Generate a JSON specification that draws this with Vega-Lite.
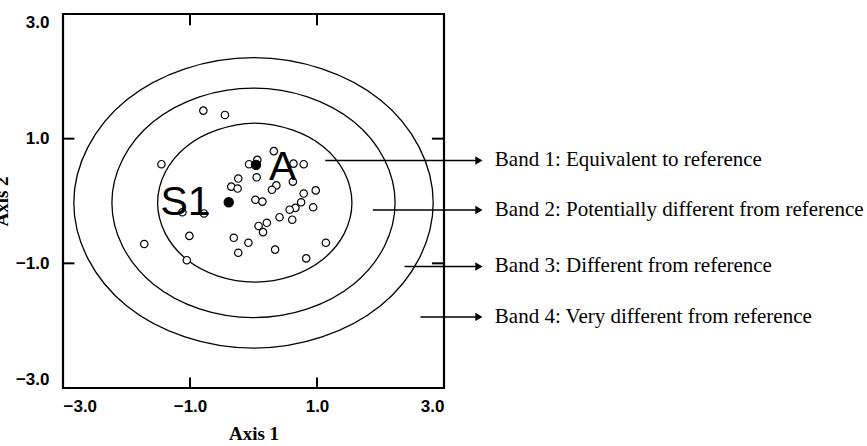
{
  "$schema": "https://vega.github.io/schema/vega-lite/v6.json",
  "autosize": {"type": "none"},
  "padding": {"left": 63, "top": 14, "right": 423, "bottom": 58},
  "width": 381,
  "height": 374,
  "background": "white",
  "config": {
    "view": {"stroke": "black", "strokeWidth": 2.2}
  },
  "datasets": {
    "ellipses": [
      {"band": 1, "i": 0, "x": 1.55, "y": -0.03}, {"band": 1, "i": 1, "x": 1.43, "y": 0.46}, {"band": 1, "i": 2, "x": 1.10, "y": 0.87}, {"band": 1, "i": 3, "x": 0.61, "y": 1.14},
      {"band": 1, "i": 4, "x": 0.02, "y": 1.25}, {"band": 1, "i": 5, "x": -0.57, "y": 1.14}, {"band": 1, "i": 6, "x": -1.06, "y": 0.87}, {"band": 1, "i": 7, "x": -1.39, "y": 0.46},
      {"band": 1, "i": 8, "x": -1.51, "y": -0.03}, {"band": 1, "i": 9, "x": -1.39, "y": -0.52}, {"band": 1, "i": 10, "x": -1.06, "y": -0.93}, {"band": 1, "i": 11, "x": -0.57, "y": -1.20},
      {"band": 1, "i": 12, "x": 0.02, "y": -1.30}, {"band": 1, "i": 13, "x": 0.61, "y": -1.20}, {"band": 1, "i": 14, "x": 1.10, "y": -0.93}, {"band": 1, "i": 15, "x": 1.43, "y": -0.52},
      {"band": 2, "i": 0, "x": 2.23, "y": -0.03}, {"band": 2, "i": 1, "x": 2.06, "y": 0.67}, {"band": 2, "i": 2, "x": 1.58, "y": 1.27}, {"band": 2, "i": 3, "x": 0.85, "y": 1.67},
      {"band": 2, "i": 4, "x": 0.0, "y": 1.81}, {"band": 2, "i": 5, "x": -0.85, "y": 1.67}, {"band": 2, "i": 6, "x": -1.58, "y": 1.27}, {"band": 2, "i": 7, "x": -2.06, "y": 0.67},
      {"band": 2, "i": 8, "x": -2.23, "y": -0.03}, {"band": 2, "i": 9, "x": -2.06, "y": -0.73}, {"band": 2, "i": 10, "x": -1.58, "y": -1.33}, {"band": 2, "i": 11, "x": -0.85, "y": -1.73},
      {"band": 2, "i": 12, "x": 0.0, "y": -1.87}, {"band": 2, "i": 13, "x": 0.85, "y": -1.73}, {"band": 2, "i": 14, "x": 1.58, "y": -1.33}, {"band": 2, "i": 15, "x": 2.06, "y": -0.73},
      {"band": 3, "i": 0, "x": 2.83, "y": -0.03}, {"band": 3, "i": 1, "x": 2.61, "y": 0.86}, {"band": 3, "i": 2, "x": 2.00, "y": 1.62}, {"band": 3, "i": 3, "x": 1.08, "y": 2.12},
      {"band": 3, "i": 4, "x": 0.0, "y": 2.30}, {"band": 3, "i": 5, "x": -1.08, "y": 2.12}, {"band": 3, "i": 6, "x": -2.00, "y": 1.62}, {"band": 3, "i": 7, "x": -2.61, "y": 0.86},
      {"band": 3, "i": 8, "x": -2.83, "y": -0.03}, {"band": 3, "i": 9, "x": -2.61, "y": -0.92}, {"band": 3, "i": 10, "x": -2.00, "y": -1.68}, {"band": 3, "i": 11, "x": -1.08, "y": -2.18},
      {"band": 3, "i": 12, "x": 0.0, "y": -2.36}, {"band": 3, "i": 13, "x": 1.08, "y": -2.18}, {"band": 3, "i": 14, "x": 2.00, "y": -1.68}, {"band": 3, "i": 15, "x": 2.61, "y": -0.92}
    ],
    "points": [
      {"x": -0.79, "y": 1.45, "type": "open"}, {"x": -0.45, "y": 1.38, "type": "open"}, {"x": -1.45, "y": 0.59, "type": "open"},
      {"x": 0.32, "y": 0.80, "type": "open"}, {"x": 0.06, "y": 0.66, "type": "open"}, {"x": -0.07, "y": 0.59, "type": "open"},
      {"x": 0.63, "y": 0.60, "type": "open"}, {"x": 0.79, "y": 0.59, "type": "open"}, {"x": 0.05, "y": 0.38, "type": "open"},
      {"x": -0.24, "y": 0.36, "type": "open"}, {"x": -0.35, "y": 0.23, "type": "open"}, {"x": -0.25, "y": 0.20, "type": "open"},
      {"x": 0.62, "y": 0.31, "type": "open"}, {"x": 0.36, "y": 0.25, "type": "open"}, {"x": 0.29, "y": 0.18, "type": "open"},
      {"x": 0.98, "y": 0.17, "type": "open"}, {"x": 0.79, "y": 0.12, "type": "open"}, {"x": 0.75, "y": -0.02, "type": "open"},
      {"x": 0.03, "y": 0.02, "type": "open"}, {"x": 0.14, "y": -0.01, "type": "open"}, {"x": 0.66, "y": -0.11, "type": "open"},
      {"x": 0.57, "y": -0.14, "type": "open"}, {"x": 0.94, "y": -0.10, "type": "open"}, {"x": 0.41, "y": -0.26, "type": "open"},
      {"x": 0.61, "y": -0.30, "type": "open"}, {"x": 0.21, "y": -0.35, "type": "open"}, {"x": 0.08, "y": -0.40, "type": "open"},
      {"x": 0.15, "y": -0.50, "type": "open"}, {"x": -0.31, "y": -0.59, "type": "open"}, {"x": -0.08, "y": -0.67, "type": "open"},
      {"x": -0.24, "y": -0.83, "type": "open"}, {"x": 0.34, "y": -0.78, "type": "open"}, {"x": 0.83, "y": -0.92, "type": "open"},
      {"x": 1.14, "y": -0.67, "type": "open"}, {"x": -1.01, "y": -0.56, "type": "open"}, {"x": -1.72, "y": -0.69, "type": "open"},
      {"x": -1.05, "y": -0.95, "type": "open"}, {"x": -1.12, "y": -0.18, "type": "open"}, {"x": -0.78, "y": -0.20, "type": "open"},
      {"x": 0.04, "y": 0.58, "type": "filled"}, {"x": -0.39, "y": -0.02, "type": "filled"}
    ],
    "labels": [
      {"x": 0.46, "y": 0.34, "text": "A"},
      {"x": -1.07, "y": -0.23, "text": "S1"}
    ],
    "arrows": [
      {"x": 1.13, "x2": 3.50, "tip": 3.55, "tx": 3.80, "y": 0.65, "label": "Band 1: Equivalent to reference"},
      {"x": 1.88, "x2": 3.50, "tip": 3.55, "tx": 3.80, "y": -0.145, "label": "Band 2: Potentially different from reference"},
      {"x": 2.38, "x2": 3.50, "tip": 3.55, "tx": 3.80, "y": -1.05, "label": "Band 3: Different from reference"},
      {"x": 2.63, "x2": 3.50, "tip": 3.55, "tx": 3.80, "y": -1.86, "label": "Band 4: Very different from reference"}
    ],
    "ticks": [
      {"x": -1, "x2": -1, "y": -3, "y2": -2.83}, {"x": 1, "x2": 1, "y": -3, "y2": -2.83},
      {"x": -1, "x2": -1, "y": 3, "y2": 2.82}, {"x": 1, "x2": 1, "y": 3, "y2": 2.82},
      {"x": -3, "x2": -2.82, "y": 1, "y2": 1}, {"x": -3, "x2": -2.82, "y": -1, "y2": -1},
      {"x": 3, "x2": 2.81, "y": 1, "y2": 1}, {"x": 3, "x2": 2.81, "y": -1, "y2": -1}
    ]
  },
  "layer": [
    {
      "data": {"name": "ellipses"},
      "mark": {"type": "line", "interpolate": "cardinal-closed", "color": "black", "strokeWidth": 1.3},
      "encoding": {
        "x": {"field": "x", "type": "quantitative", "scale": {"domain": [-3, 3], "nice": false, "zero": false},
          "axis": {"orient": "bottom", "values": [-3, -1, 1, 3], "title": "Axis 1", "grid": false, "domain": false,
            "ticks": false, "tickSize": 0,
            "labelFont": "Liberation Sans", "labelFontWeight": "bold", "labelFontSize": 17, "labelColor": "black", "labelFlush": true, "labelPadding": 10,
            "titleFont": "Liberation Serif", "titleFontWeight": "bold", "titleFontSize": 19, "titleColor": "black", "titlePadding": 10}},
        "y": {"field": "y", "type": "quantitative", "scale": {"domain": [-3, 3], "nice": false, "zero": false},
          "axis": {"orient": "left", "values": [-3, -1, 1, 3], "title": "Axis 2", "grid": false, "domain": false,
            "ticks": false, "tickSize": 0,
            "labelFont": "Liberation Sans", "labelFontWeight": "bold", "labelFontSize": 17, "labelColor": "black", "labelFlush": true, "labelPadding": 14,
            "titleFont": "Liberation Serif", "titleFontWeight": "bold", "titleFontSize": 19, "titleColor": "black", "titlePadding": 4}},
        "detail": {"field": "band", "type": "nominal"},
        "order": {"field": "i", "type": "quantitative"}
      }
    },
    {
      "data": {"name": "ticks"},
      "mark": {"type": "rule", "color": "black", "strokeWidth": 2},
      "encoding": {
        "x": {"field": "x", "type": "quantitative"},
        "x2": {"field": "x2"},
        "y": {"field": "y", "type": "quantitative"},
        "y2": {"field": "y2"}
      }
    },
    {
      "data": {"name": "arrows"},
      "mark": {"type": "rule", "color": "black", "strokeWidth": 1.5},
      "encoding": {
        "x": {"field": "x", "type": "quantitative"},
        "x2": {"field": "x2"},
        "y": {"field": "y", "type": "quantitative"}
      }
    },
    {
      "data": {"name": "arrows"},
      "mark": {"type": "point", "shape": "triangle-right", "filled": true, "color": "black", "size": 70, "opacity": 1},
      "encoding": {
        "x": {"field": "tip", "type": "quantitative"},
        "y": {"field": "y", "type": "quantitative"}
      }
    },
    {
      "data": {"name": "arrows"},
      "mark": {"type": "text", "align": "left", "baseline": "middle", "font": "Liberation Serif", "fontSize": 21, "color": "black"},
      "encoding": {
        "x": {"field": "tx", "type": "quantitative"},
        "y": {"field": "y", "type": "quantitative"},
        "text": {"field": "label"}
      }
    },
    {
      "data": {"name": "points"},
      "mark": {"type": "point", "shape": "circle", "strokeWidth": 1.2, "opacity": 1},
      "encoding": {
        "x": {"field": "x", "type": "quantitative"},
        "y": {"field": "y", "type": "quantitative"},
        "fill": {"field": "type", "type": "nominal", "scale": {"domain": ["open", "filled"], "range": ["white", "black"]}, "legend": null},
        "size": {"field": "type", "type": "nominal", "scale": {"domain": ["open", "filled"], "range": [55, 85]}, "legend": null},
        "stroke": {"value": "black"}
      }
    },
    {
      "data": {"name": "labels"},
      "mark": {"type": "text", "align": "center", "baseline": "alphabetic", "font": "Liberation Sans", "fontSize": 41, "color": "black"},
      "encoding": {
        "x": {"field": "x", "type": "quantitative"},
        "y": {"field": "y", "type": "quantitative"},
        "text": {"field": "text"}
      }
    }
  ]
}
